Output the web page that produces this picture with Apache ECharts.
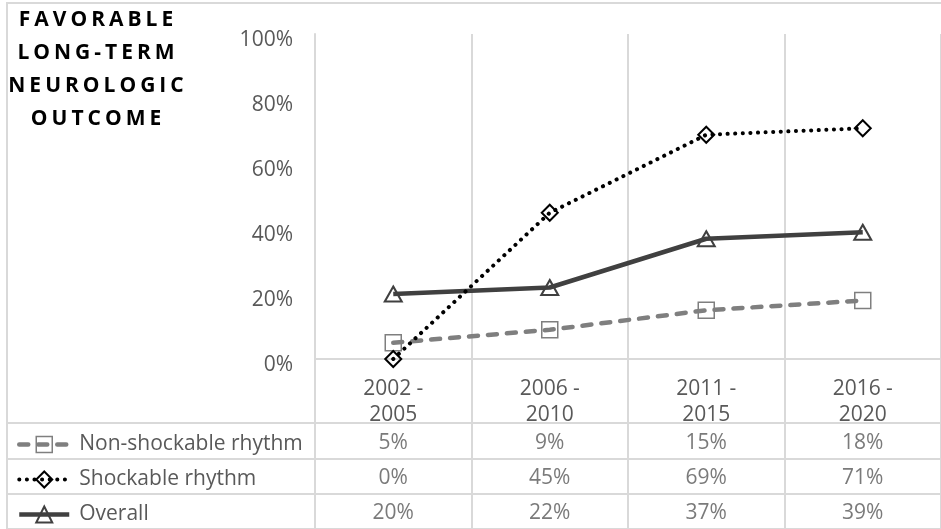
<!DOCTYPE html>
<html>
<head>
<meta charset="utf-8">
<script src="https://cdn.jsdelivr.net/npm/echarts@6/dist/echarts.min.js"></script>
<style>
  html, body { margin: 0; padding: 0; background: #ffffff; }
  #chart { width: 941px; height: 529px; }
</style>
</head>
<body>
<div id="chart"></div>
<script>
// ---- data ----
const categories = ['2002 - 2005', '2006 - 2010', '2011 - 2015', '2016 - 2020'];
const rowNames = ['Non-shockable rhythm', 'Shockable rhythm', 'Overall'];
const nonShockable = [5, 9, 15, 18];
const shockable = [0, 45, 69, 71];
const overall = [20, 22, 37, 39];
const titleLines = ['FAVORABLE', 'LONG-TERM', 'NEUROLOGIC', 'OUTCOME'];
const yMin = 0, yMax = 100, yStep = 20;

// ---- spaced heading letters: letterSpacing only while the bold heading font is drawn ----
const nativeFillText = CanvasRenderingContext2D.prototype.fillText;
CanvasRenderingContext2D.prototype.fillText = function (t, x, y, w) {
  const f = this.font;
  const heading = /(bold|700|800)/.test(f) && ('letterSpacing' in this);
  if (heading) {
    this.letterSpacing = '4px';
    this.font = f;
  }
  const r = w === undefined ? nativeFillText.call(this, t, x, y) : nativeFillText.call(this, t, x, y, w);
  if (heading) {
    this.letterSpacing = '0px';
    this.font = f;
  }
  return r;
};

const FONT = '"Open Sans", "Noto Sans", sans-serif';
const FS = 21;
const TEXT_GREY = '#595959';
const RULE = '#d9d9d9';

const lineStyles = [
  { color: '#7f7f7f', width: 4.5, type: [9, 10], cap: 'round' },
  { color: '#000000', width: 4, type: [0.1, 7.5], cap: 'round' },
  { color: '#404040', width: 4.5, type: 'solid' }
];
const markerStyles = [
  { color: 'none', borderColor: '#7f7f7f', borderWidth: 1.5 },
  { color: 'none', borderColor: '#000000', borderWidth: 2 },
  { color: 'none', borderColor: '#404040', borderWidth: 2 }
];

const seriesData = [nonShockable, shockable, overall];

// table cells: [column, row, value]
const tableCells = [];
seriesData.forEach((arr, r) => arr.forEach((v, c) => tableCells.push([c, r, v])));

const chart = echarts.init(document.getElementById('chart'), null, { renderer: 'canvas' });

chart.setOption({
  animation: false,
  backgroundColor: '#ffffff',
  textStyle: { fontFamily: FONT },
  graphic: [
    {
      type: 'rect', silent: true, z: -1,
      shape: { x: 7, y: 3, width: 1000, height: 600 },
      style: { fill: 'none', stroke: RULE, lineWidth: 2 }
    },
    {
      type: 'text', silent: true,
      x: 98, y: 4,
      style: {
        text: titleLines.join('\n'),
        font: 'bold 21px ' + FONT,
        fill: '#000000',
        align: 'center',
        verticalAlign: 'top',
        lineHeight: 33
      }
    }
  ],
  legend: {
    data: rowNames.map((n, i) => ({ name: n, lineStyle: lineStyles[i], itemStyle: markerStyles[i] })),
    orient: 'vertical',
    left: 12,
    top: 429,
    height: 140,
    itemWidth: 50,
    itemHeight: 20,
    itemGap: 14,
    selectedMode: false,
    textStyle: { fontFamily: FONT, fontSize: FS, color: TEXT_GREY, lineHeight: 21, padding: [0, 0, 0, 5] }
  },
  grid: [
    { left: 315, top: 34, width: 636, height: 325 },   // plot
    { left: 7, top: 423, width: 944, height: 108 },    // table rows (full width)
    { left: 315, top: 423, width: 636, height: 108 }   // table cells
  ],
  xAxis: [
    {
      gridIndex: 0, type: 'category', data: categories, boundaryGap: true,
      axisLine: { show: true, lineStyle: { color: RULE, width: 2 } },
      axisTick: { show: true, length: 64, alignWithLabel: false, lineStyle: { color: RULE, width: 2 } },
      splitLine: { show: true, lineStyle: { color: RULE, width: 2 } },
      axisLabel: {
        margin: 17, fontSize: FS, color: TEXT_GREY, lineHeight: 26, fontFamily: FONT,
        formatter: v => v.replace(' - ', ' -\n')
      }
    },
    { gridIndex: 1, type: 'value', show: false },
    {
      gridIndex: 2, type: 'category', data: categories, boundaryGap: true,
      axisLine: { show: false }, axisTick: { show: false }, axisLabel: { show: false },
      splitLine: { show: true, lineStyle: { color: RULE, width: 2 } }
    }
  ],
  yAxis: [
    {
      gridIndex: 0, type: 'value', min: yMin, max: yMax, interval: yStep,
      axisLine: { show: true, lineStyle: { color: RULE, width: 2 } },
      axisTick: { show: false },
      splitLine: { show: false },
      axisLabel: {
        margin: 22, color: TEXT_GREY,
        formatter: '{t|{value}%}',
        rich: { t: { fontSize: FS, color: TEXT_GREY, fontFamily: FONT, padding: [12, 0, 0, 0] } }
      }
    },
    {
      gridIndex: 1, type: 'category', data: rowNames, inverse: true, boundaryGap: true,
      axisLine: { show: true, lineStyle: { color: RULE, width: 2 } },
      axisTick: { show: false }, axisLabel: { show: false },
      splitLine: { show: true, lineStyle: { color: RULE, width: 2 } }
    },
    {
      gridIndex: 2, type: 'category', data: rowNames, inverse: true, boundaryGap: true,
      axisLine: { show: false }, axisTick: { show: false }, axisLabel: { show: false },
      splitLine: { show: false }
    }
  ],
  series: [
    {
      name: rowNames[0], type: 'line', xAxisIndex: 0, yAxisIndex: 0,
      data: nonShockable, z: 2,
      symbol: 'rect', symbolSize: 16,
      lineStyle: lineStyles[0], itemStyle: markerStyles[0]
    },
    {
      name: rowNames[1], type: 'line', xAxisIndex: 0, yAxisIndex: 0,
      data: shockable, z: 4,
      symbol: 'diamond', symbolSize: 16,
      lineStyle: lineStyles[1], itemStyle: markerStyles[1]
    },
    {
      name: rowNames[2], type: 'line', xAxisIndex: 0, yAxisIndex: 0,
      data: overall, z: 3,
      symbol: 'triangle', symbolSize: [17, 15],
      lineStyle: lineStyles[2], itemStyle: markerStyles[2]
    },
    {
      name: 'table', type: 'scatter', xAxisIndex: 2, yAxisIndex: 2,
      data: tableCells, symbolSize: 1,
      itemStyle: { color: 'transparent' },
      label: {
        show: true, position: 'inside', offset: [0, 2], fontSize: FS, color: TEXT_GREY, fontFamily: FONT,
        formatter: p => p.value[2] + '%'
      },
      silent: true
    }
  ]
});
</script>
</body>
</html>
